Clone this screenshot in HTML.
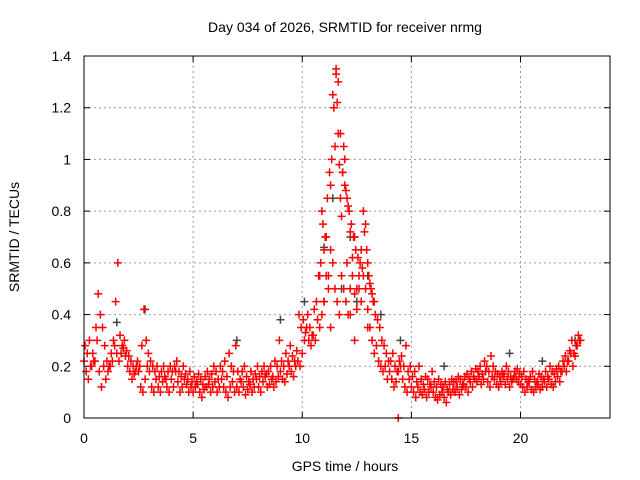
<!DOCTYPE html>
<html><head><meta charset="utf-8"><style>
body{margin:0;background:#fff}
svg{display:block;font-family:"Liberation Sans",sans-serif}
</style></head><body>
<svg id="chart" width="640" height="480">
<text x="345" y="32" font-size="14" text-anchor="middle">Day 034 of 2026, SRMTID for receiver nrmg</text>
<text x="345" y="471" font-size="14" text-anchor="middle">GPS time / hours</text>
<text x="0" y="0" font-size="14" text-anchor="middle" transform="translate(19,237) rotate(-90)">SRMTID / TECUs</text>
<g id="grid"></g>
<g id="ticks"></g>
<g id="marks"></g>
<rect x="84" y="56" width="526" height="362" fill="none" stroke="#000"/>
</svg>
<script>
const xTicks=[0,5,10,15,20];
const yTicks=[0,0.2,0.4,0.6,0.8,1,1.2,1.4];
const yTickLabels=["0","0.2","0.4","0.6","0.8","1","1.2","1.4"];
const seriesStart=0, seriesStep=0.1;
const lowValues=[0.22,0.18,0.15,0.2,0.25,0.22,0.3,0.18,0.12,0.2,
0.15,0.18,0.2,0.22,0.28,0.25,0.22,0.25,0.27,0.24,
0.2,0.18,0.15,0.17,0.2,0.18,0.12,0.1,0.15,0.2,
0.18,0.12,0.1,0.15,0.12,0.1,0.14,0.16,0.12,0.1,
0.15,0.12,0.18,0.14,0.1,0.12,0.15,0.13,0.1,0.12,
0.1,0.12,0.13,0.1,0.08,0.11,0.12,0.13,0.1,0.12,
0.14,0.1,0.12,0.15,0.12,0.1,0.08,0.12,0.14,0.1,
0.12,0.1,0.14,0.12,0.09,0.11,0.13,0.1,0.12,0.15,
0.12,0.1,0.14,0.16,0.12,0.13,0.15,0.12,0.14,0.16,
0.18,0.15,0.14,0.17,0.2,0.18,0.16,0.2,0.22,0.2,
0.25,0.3,0.35,0.3,0.28,0.32,0.3,0.38,0.35,0.4,
0.45,0.55,0.5,0.65,0.6,0.5,0.45,0.4,0.55,0.5,
0.45,0.4,0.5,0.55,0.48,0.42,0.5,0.45,0.55,0.5,
0.42,0.35,0.3,0.25,0.28,0.22,0.2,0.18,0.2,0.15,
0.18,0.15,0.12,0.14,0.18,0.2,0.15,0.12,0.1,0.15,
0.12,0.1,0.08,0.12,0.1,0.09,0.11,0.08,0.1,0.12,
0.1,0.08,0.07,0.09,0.1,0.08,0.06,0.1,0.09,0.11,
0.1,0.12,0.09,0.11,0.13,0.12,0.1,0.14,0.12,0.15,
0.14,0.16,0.13,0.15,0.18,0.14,0.12,0.16,0.15,0.13,
0.12,0.14,0.16,0.13,0.15,0.12,0.14,0.16,0.15,0.14,
0.13,0.12,0.1,0.12,0.14,0.11,0.1,0.12,0.13,0.11,
0.12,0.14,0.12,0.15,0.13,0.12,0.14,0.16,0.14,0.18,
0.2,0.18,0.22,0.25,0.2,0.24,0.28,0.3];
const highValues=[0.28,0.25,0.3,0.2,0.22,0.35,0.48,0.4,0.35,0.28,
0.22,0.2,0.25,0.3,0.45,0.6,0.32,0.28,0.3,0.26,
0.24,0.22,0.2,0.18,0.22,0.2,0.28,0.42,0.3,0.25,
0.22,0.2,0.18,0.2,0.16,0.18,0.2,0.15,0.18,0.2,
0.18,0.2,0.22,0.18,0.16,0.2,0.17,0.15,0.18,0.14,
0.16,0.14,0.17,0.15,0.13,0.16,0.18,0.15,0.17,0.2,
0.18,0.15,0.2,0.18,0.22,0.16,0.25,0.2,0.18,0.28,
0.18,0.15,0.18,0.2,0.16,0.14,0.18,0.15,0.17,0.2,
0.16,0.18,0.2,0.17,0.18,0.2,0.16,0.22,0.2,0.3,
0.22,0.2,0.25,0.22,0.28,0.24,0.22,0.26,0.4,0.35,
0.38,0.33,0.4,0.35,0.32,0.42,0.45,0.55,0.6,0.75,
0.7,0.85,0.95,1.0,1.2,1.35,1.3,1.1,0.95,0.9,
0.85,0.8,0.75,0.7,0.65,0.62,0.6,0.58,0.72,0.65,
0.55,0.5,0.45,0.4,0.38,0.35,0.3,0.28,0.25,0.22,
0.22,0.25,0.2,0.18,0.22,0.24,0.2,0.28,0.18,0.2,
0.16,0.18,0.14,0.2,0.15,0.13,0.16,0.15,0.13,0.18,
0.14,0.12,0.15,0.13,0.12,0.14,0.11,0.13,0.15,0.14,
0.14,0.16,0.15,0.13,0.16,0.17,0.15,0.18,0.16,0.19,
0.18,0.2,0.17,0.22,0.2,0.18,0.24,0.2,0.18,0.17,
0.16,0.18,0.17,0.2,0.18,0.16,0.15,0.18,0.19,0.17,
0.16,0.18,0.15,0.14,0.16,0.18,0.15,0.14,0.17,0.16,
0.15,0.18,0.16,0.2,0.18,0.17,0.19,0.2,0.18,0.22,
0.24,0.22,0.26,0.3,0.25,0.28,0.32,0.3];
const peakTimes=[10.9,11.0,11.1,11.2,11.3,11.4,11.5,11.55,11.6,11.65,11.7,11.75,11.8,11.85,11.9,11.95,12.0,12.05,12.1,12.2,12.3,12.4,12.5,12.6,12.7,12.8,12.9,13.0,13.1,13.2,13.3,10.8,11.0,11.3,12.2,12.4,13.0,14.4];
const peakValues=[0.8,0.65,0.7,0.55,0.9,1.25,1.05,1.33,1.22,1.1,0.98,0.85,0.78,0.95,1.05,1.0,0.88,0.6,0.82,0.72,0.62,0.7,0.5,0.55,0.65,0.8,0.75,0.6,0.52,0.48,0.45,0.55,0.45,0.35,0.4,0.3,0.35,0.0];
const grayTimes=[1.5,2.8,7.0,9.0,10.1,11.0,11.4,11.8,12.2,12.5,13.0,13.6,14.5,16.5,19.5,21.0,22.5];
const grayValues=[0.37,0.42,0.3,0.38,0.45,0.66,0.85,0.5,0.7,0.45,0.55,0.4,0.3,0.2,0.25,0.22,0.3];

const X0=84,X1=610,Y0=418,Y1=56,XMAX=24.1,YMAX=1.4;
const xs=v=>X0+(X1-X0)*v/XMAX;
const ys=v=>Y0-(Y0-Y1)*v/YMAX;
const NS="http://www.w3.org/2000/svg";
function mk(tag,attrs,parent){const e=document.createElementNS(NS,tag);for(const k in attrs)e.setAttribute(k,attrs[k]);parent.appendChild(e);return e;}
const grid=document.getElementById('grid'),ticks=document.getElementById('ticks'),marks=document.getElementById('marks');
xTicks.forEach(t=>{const x=xs(t);
 if(t>0){const g=mk('line',{x1:x,x2:x,y1:Y1,y2:Y0,stroke:'#999','stroke-dasharray':'2,3'},grid);
 
 }
 mk('line',{x1:x,x2:x,y1:Y0,y2:Y0-6,stroke:'#000'},ticks);
 mk('line',{x1:x,x2:x,y1:Y1,y2:Y1+6,stroke:'#000'},ticks);
 const l=mk('text',{x:x,y:443,'font-size':14,'text-anchor':'middle'},ticks);l.textContent=t;
 
 });
yTicks.forEach((t,i)=>{const y=ys(t);
 if(t>0&&t<YMAX){const g=mk('line',{x1:X0,x2:X1,y1:y,y2:y,stroke:'#999','stroke-dasharray':'2,3'},grid);
 
 }
 mk('line',{x1:X0,x2:X0+6,y1:y,y2:y,stroke:'#000'},ticks);
 mk('line',{x1:X1,x2:X1-6,y1:y,y2:y,stroke:'#000'},ticks);
 const l=mk('text',{x:71,y:y+5,'font-size':14,'text-anchor':'end'},ticks);l.textContent=yTickLabels[i];
 
 });
function plus(t,v,color,name){const x=xs(t),y=ys(v);
 const p=mk('path',{d:`M${x-4},${y}H${x+4}M${x},${y-4}V${y+4}`,stroke:color,'stroke-width':1.5,fill:'none'},marks);
 
 }
grayTimes.forEach((t,i)=>plus(t,grayValues[i],'#444','gray-point'));
lowValues.forEach((v,i)=>plus(seriesStart+i*seriesStep,v,'#f00','red-point'));
highValues.forEach((v,i)=>plus(seriesStart+i*seriesStep+0.05,v,'#f00','red-point'));
peakTimes.forEach((t,i)=>plus(t,peakValues[i],'#f00','red-point'));
</script>
</body></html>
